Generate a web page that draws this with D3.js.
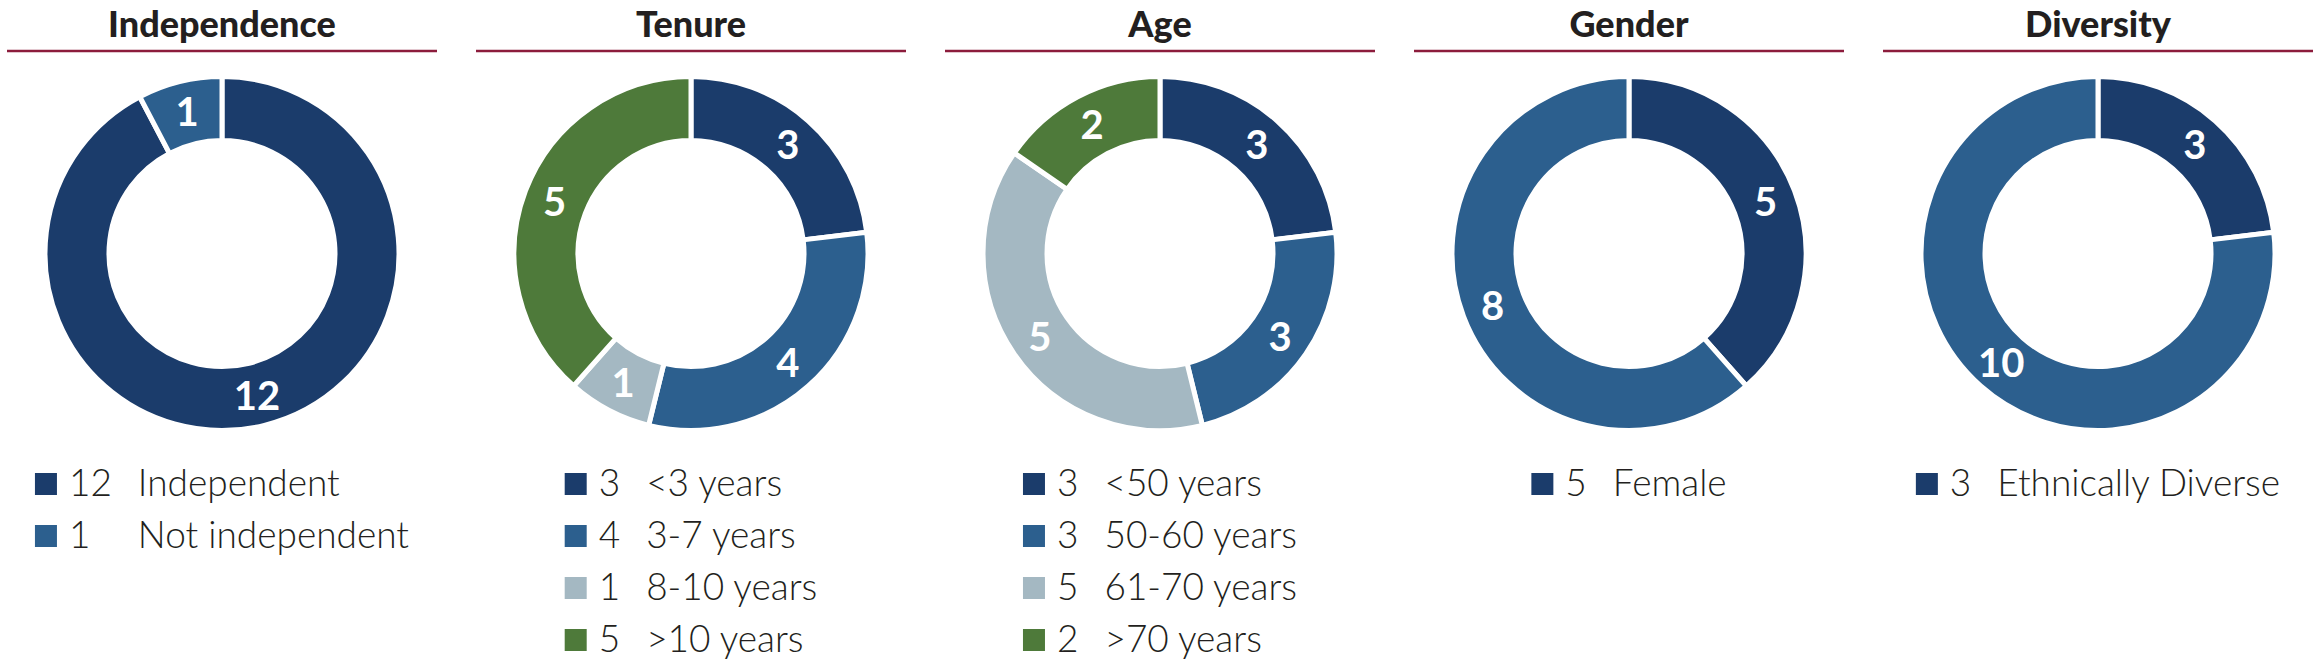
<!DOCTYPE html>
<html>
<head>
<meta charset="utf-8">
<script src="https://cdn.jsdelivr.net/npm/d3@7"></script>
<style>
html,body{margin:0;padding:0;background:#fff;}
svg{display:block;}
</style>
</head>
<body>
<svg id="chart" width="2320" height="666"></svg>
<script>
// ---- Data ----
const panelTitles = ["Independence", "Tenure", "Age", "Gender", "Diversity"];

const independenceCategories = ["Independent", "Not independent"];
const independenceValues = [12, 1];

const tenureCategories = ["<3 years", "3-7 years", "8-10 years", ">10 years"];
const tenureValues = [3, 4, 1, 5];

const ageCategories = ["<50 years", "50-60 years", "61-70 years", ">70 years"];
const ageValues = [3, 3, 5, 2];

const genderCategories = ["Female", "Male"];
const genderValues = [5, 8];
const genderLegendItems = ["Female"];

const diversityCategories = ["Ethnically Diverse", "Not ethnically diverse"];
const diversityValues = [3, 10];
const diversityLegendItems = ["Ethnically Diverse"];

const seriesColors = ["#1b3c6b", "#2c5f8e", "#a4b8c2", "#4e7a3a"];

const panels = [
  {title: panelTitles[0], cats: independenceCategories, vals: independenceValues, legend: independenceCategories},
  {title: panelTitles[1], cats: tenureCategories, vals: tenureValues, legend: tenureCategories},
  {title: panelTitles[2], cats: ageCategories, vals: ageValues, legend: ageCategories},
  {title: panelTitles[3], cats: genderCategories, vals: genderValues, legend: genderLegendItems},
  {title: panelTitles[4], cats: diversityCategories, vals: diversityValues, legend: diversityLegendItems}
];

// ---- Layout ----
const svg = d3.select("#chart");
const xScale = d3.scalePoint().domain(panelTitles).range([222, 2098]);
const cy = 253.5;
const outerR = 177, innerR = 113;

const arc = d3.arc().innerRadius(innerR).outerRadius(outerR);
const labelArc = d3.arc().innerRadius(146).outerRadius(146);
const pie = d3.pie().sort(null).value(d => d.v);

const titleFont = "Lato, 'Open Sans', sans-serif";
const legendFont = "Lato, 'Open Sans', sans-serif";

panels.forEach(p => {
  const cx = xScale(p.title);
  const g = svg.append("g");
  // title
  g.append("text")
    .attr("x", cx).attr("y", 37)
    .attr("text-anchor", "middle")
    .attr("font-family", titleFont)
    .attr("font-weight", 900)
    .attr("font-size", 36)
    .attr("fill", "#231f20")
    .text(p.title);
  // rule
  g.append("line")
    .attr("x1", cx - 215).attr("x2", cx + 215)
    .attr("y1", 51).attr("y2", 51)
    .attr("stroke", "#8c1c3c").attr("stroke-width", 2.5);

  const data = p.cats.map((c, i) => ({c, v: p.vals[i], i}));
  const arcs = pie(data);
  const dg = g.append("g").attr("transform", `translate(${cx},${cy})`);
  dg.selectAll("path").data(arcs).join("path")
    .attr("d", arc)
    .attr("fill", d => seriesColors[d.data.i])
    .attr("stroke", "#fff").attr("stroke-width", 5).attr("stroke-linejoin", "miter");
  dg.selectAll("text").data(arcs).join("text")
    .attr("transform", d => `translate(${labelArc.centroid(d)})`)
    .attr("text-anchor", "middle")
    .attr("dy", "0.36em")
    .attr("font-family", titleFont)
    .attr("font-weight", 700)
    .attr("font-size", 40)
    .attr("fill", "#fff")
    .text(d => d.data.v);

  // legend
  const lg = g.append("g");
  const items = p.legend.map(name => {
    const i = p.cats.indexOf(name);
    return {name, v: p.vals[i], i};
  });
  const rowStart = 484, rowStep = 52, sq = 22;
  const numOffset = 34;
  const tmp = lg.append("text").attr("font-family", legendFont).attr("font-weight", 300).attr("font-size", 37);
  let maxNumW = 0;
  items.forEach(it => { tmp.text(it.v); maxNumW = Math.max(maxNumW, tmp.node().getComputedTextLength()); });
  let maxLabW = 0;
  items.forEach(it => { tmp.text(it.name); maxLabW = Math.max(maxLabW, tmp.node().getComputedTextLength()); });
  tmp.remove();
  const labOffset = numOffset + maxNumW + 26;
  const totalW = labOffset + maxLabW;
  const lx = cx - totalW / 2;
  items.forEach((it, k) => {
    const yc = rowStart + k * rowStep;
    lg.append("rect")
      .attr("x", lx).attr("y", yc - sq / 2)
      .attr("width", sq).attr("height", sq)
      .attr("fill", seriesColors[it.i]);
    lg.append("text")
      .attr("x", lx + numOffset).attr("y", yc + 12)
      .attr("font-family", legendFont).attr("font-weight", 300).attr("font-size", 37)
      .attr("fill", "#231f20")
      .text(it.v);
    lg.append("text")
      .attr("x", lx + labOffset).attr("y", yc + 12)
      .attr("font-family", legendFont).attr("font-weight", 300).attr("font-size", 37)
      .attr("fill", "#231f20")
      .text(it.name);
  });
});
</script>
</body>
</html>
